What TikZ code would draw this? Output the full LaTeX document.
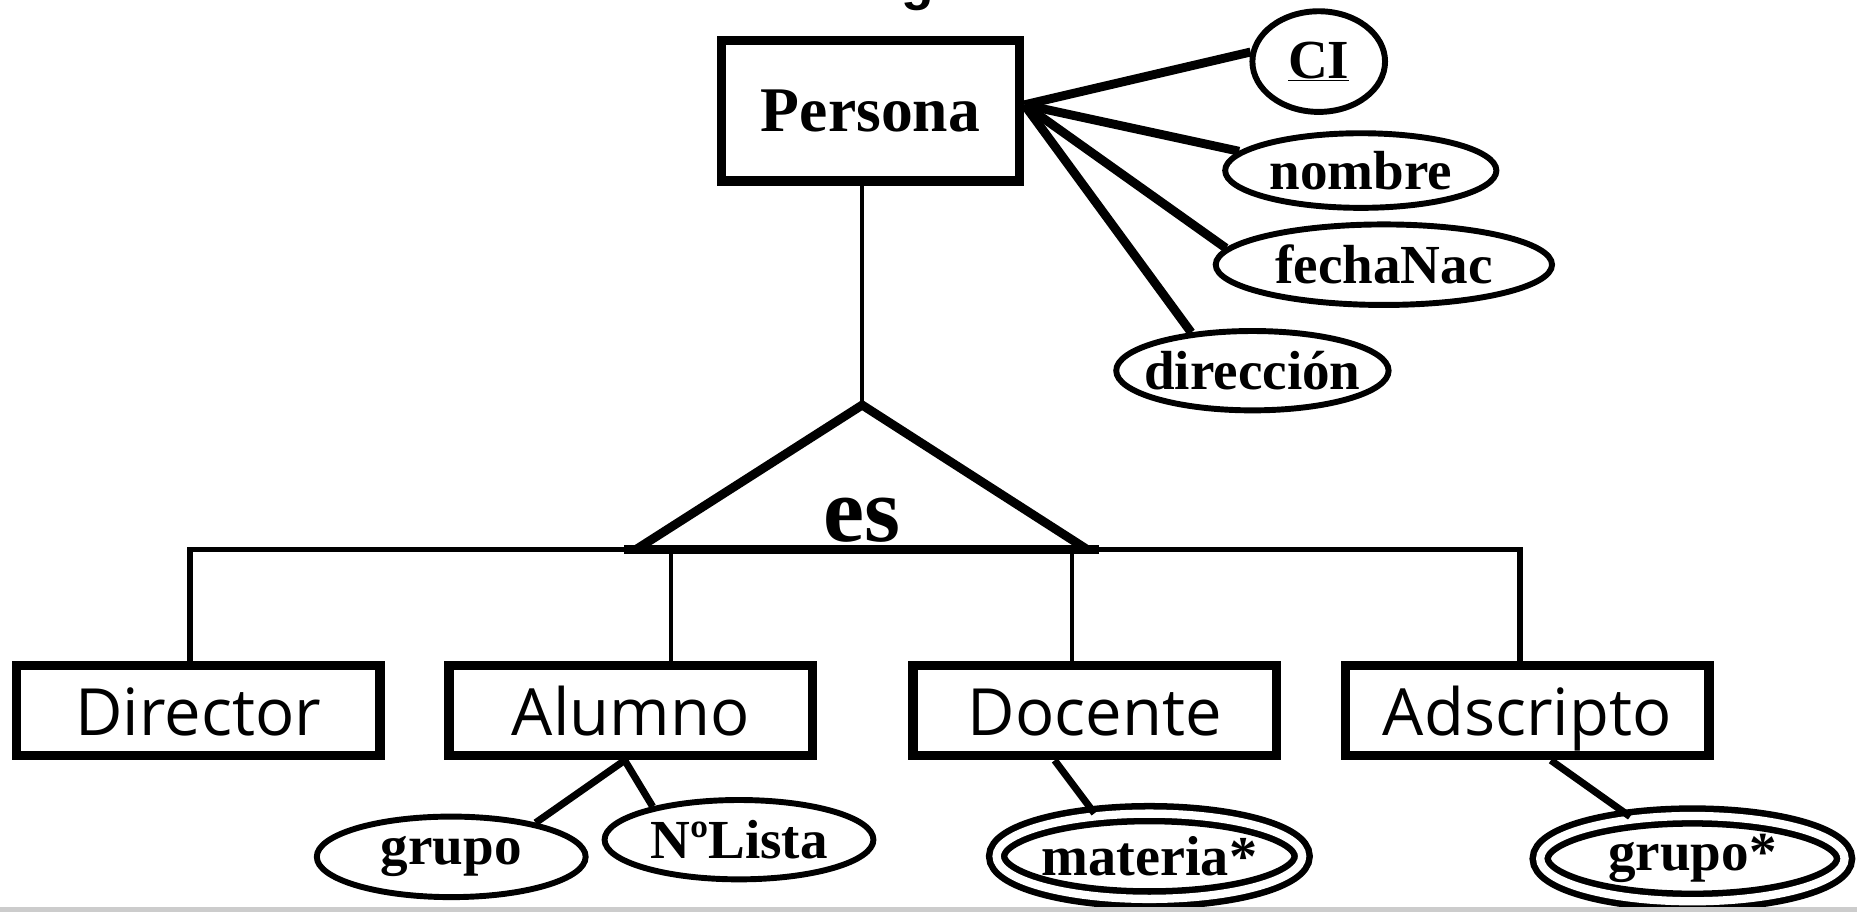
\documentclass[tikz,border=0pt]{standalone}
\usepackage{fontspec}
\setmainfont{Liberation Serif}
\newfontfamily\subfont{Open Sans}
\newfontfamily\headfont{Liberation Sans}
\usetikzlibrary{shapes.geometric}
\begin{document}
\begin{tikzpicture}[x=1pt, y=-1pt]
            \tikzstyle{entity}=[draw, line width=8pt, inner sep=0pt, font=\fontsize{53.7}{60}\selectfont\bfseries]
            \tikzstyle{subentity}=[draw, line width=8pt, inner sep=0pt, minimum width=307pt, minimum height=76pt, text height=42pt, text depth=0pt, font=\fontsize{55}{60}\selectfont\subfont]
            \tikzstyle{attr}=[draw, ellipse, line width=5pt, inner xsep=-20pt, inner ysep=0pt, font=\fontsize{46.5}{50}\selectfont\bfseries]
            \tikzstyle{multiattr}=[attr, line width=5.5pt, double, double distance=7pt]
            \tikzstyle{link}=[line width=7.5pt]
            \tikzstyle{thinlink}=[line width=3.5pt]
            \useasboundingbox (0, 0) rectangle (1568, 770);
            \node [anchor=base, font=\fontsize{45}{50}\selectfont\headfont\bfseries] (title) at (775, 0) {g};
            % entidad Persona y sus atributos
            \node [entity, minimum width=252pt, minimum height=119pt] (persona) at (735, 93.5) {Persona};
            \node [attr, minimum width=112pt, minimum height=85pt] (ci) at (1113.5, 52) {\underline{CI}};
            \node [attr, minimum width=229pt, minimum height=63pt] (nombre) at (1149, 144) {nombre};
            \node [attr, minimum width=284pt, minimum height=68pt] (fecha) at (1168.5, 223.5) {fechaNac};
            \node [attr, minimum width=230pt, minimum height=67pt] (dir) at (1057.5, 313) {dirección};
            \draw [link] ([yshift=5pt]persona.east) -- (ci.172);
            \draw [link] ([yshift=5pt]persona.east) -- (nombre.171);
            \draw [link] ([yshift=5pt]persona.east) -- (fecha.174);
            \draw [link] ([yshift=5pt]persona.east) -- (dir.148);
            % triangulo es
            \coordinate (apex) at (728, 342);
            \coordinate (baseL) at (537, 464);
            \coordinate (baseR) at (918, 464);
            \draw [thinlink] (persona.south -| apex) -- (apex);
            \node [font=\fontsize{78}{80}\selectfont\bfseries, anchor=base] (es) at (728, 457) {es};
            % subclases
            \node [subentity] (director) at (167.5, 600) {Director};
            \node [subentity] (alumno) at (532.5, 600) {Alumno};
            \node [subentity] (docente) at (924.5, 600) {Docente};
            \node [subentity] (adscripto) at (1289.5, 600) {Adscripto};
            \draw [line width=5pt] ([xshift=-7pt]director.north) |- ([xshift=-6pt]adscripto.north |- baseL) -- ([xshift=-6pt]adscripto.north);
            \draw [thinlink] ([xshift=34pt]alumno.north) -- ([xshift=34pt]alumno.north |- baseL);
            \draw [thinlink] ([xshift=-19pt]docente.north) -- ([xshift=-19pt]docente.north |- baseL);
            \draw [link, line join=miter] (baseL) -- (apex) -- (baseR);
            \draw [link] ([xshift=-10pt]baseL) -- ([xshift=10pt]baseR);
            % atributos de las subclases
            \node [attr, minimum width=227pt, minimum height=68pt] (grupo) at (381, 723.5) {grupo};
            \node [attr, minimum width=227pt, minimum height=67pt] (nlista) at (624, 709) {NºLista};
            \node [multiattr, minimum width=258pt, minimum height=72pt, font=\fontsize{47.5}{50}\selectfont\bfseries] (materia) at (970.5, 723) {materia*};
            \node [multiattr, minimum width=257pt, minimum height=72pt] (grupos) at (1429, 725) {grupo*};
            \draw [line width=6pt] ([xshift=-5pt]alumno.south) -- (grupo.22);
            \draw [line width=6pt] ([xshift=-5pt]alumno.south) -- (nlista.159);
            \draw [line width=6pt] ([xshift=-34pt]docente.south) -- (materia.142);
            \draw [line width=6pt] ([xshift=20pt]adscripto.south) -- (grupos.146);
            \fill [black!20!white] (0, 766) rectangle (1568, 770);
\end{tikzpicture}
\end{document}
